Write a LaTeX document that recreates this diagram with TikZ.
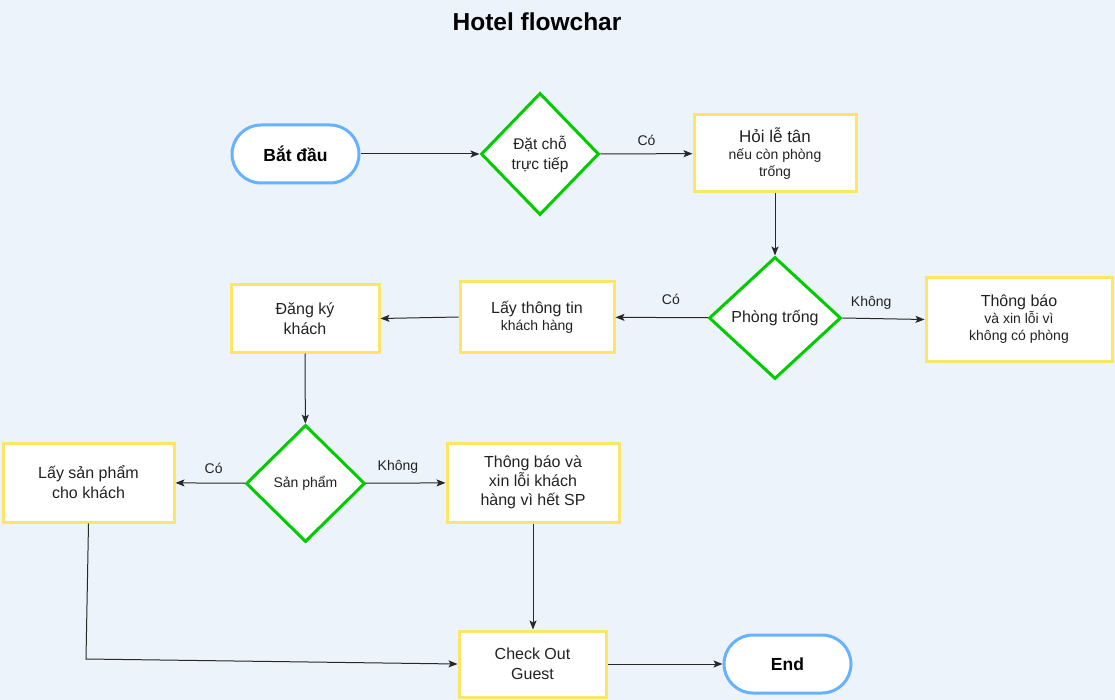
\documentclass[tikz,border=0pt]{standalone}
\usepackage{fontspec}
\setmainfont{Liberation Sans}
\usetikzlibrary{shapes.geometric,arrows.meta}
\definecolor{bgc}{RGB}{236,243,250}
\definecolor{ybox}{RGB}{255,229,102}
\definecolor{gdia}{RGB}{0,204,0}
\definecolor{bterm}{RGB}{102,178,255}
\definecolor{txt}{RGB}{34,34,34}
\definecolor{edgec}{RGB}{40,40,40}
\tikzset{
  fbig/.style={font=\fontsize{16}{20}\selectfont},
  procbox/.style={draw=ybox, line width=3pt, fill=white, rectangle, inner sep=0pt, text=txt, align=center, fbig},
  decision/.style={draw=gdia, line width=3pt, fill=white, diamond, inner sep=0pt, text=txt, align=center, fbig},
  terminal/.style={draw=bterm, line width=3pt, fill=white, rectangle, rounded corners=29pt, inner sep=0pt, font=\bfseries\fontsize{17.5}{20}\selectfont, text=black},
  conn/.style={draw=edgec, line width=1pt, -{Stealth[length=9pt,width=7pt,inset=2pt]}},
  elabel/.style={font=\fontsize{14}{16}\selectfont, text=txt},
}
\begin{document}
\begin{tikzpicture}[x=1pt,y=-1pt]
\fill[bgc] (0,0) rectangle (1115,700);
\useasboundingbox (0,0) rectangle (1115,700);

\node[font=\bfseries\fontsize{24.5}{28}\selectfont] (title) at (537,22) {Hotel flowchar};

\node[terminal, minimum width=127pt, minimum height=58pt] (start) at (295.5,154) {Bắt đầu};
\node[decision, minimum width=118pt, minimum height=122pt, font=\fontsize{15.5}{20}\selectfont] (d1) at (540,154) {Đặt chỗ\\trực tiếp};
\node[procbox, minimum width=162pt, minimum height=77pt] (ask) at (775,153.5) {{\fontsize{17}{20}\selectfont Hỏi lễ tân}\\[-3pt]{\fontsize{14}{16}\selectfont nếu còn phòng}\\[-3pt]{\fontsize{14}{16}\selectfont trống}};
\node[decision, minimum width=132pt, minimum height=122pt, font=\fontsize{16}{20}\selectfont] (d2) at (775,318) {Phòng trống};
\node[procbox, minimum width=186pt, minimum height=83pt] (sorry1) at (1019,319.5) {{\fontsize{16}{20}\selectfont Thông báo}\\[-3pt]{\fontsize{14}{16}\selectfont và xin lỗi vì}\\[-3pt]{\fontsize{14}{16}\selectfont không có phòng}};
\node[procbox, minimum width=154pt, minimum height=70pt] (info) at (537,317) {Lấy thông tin\\[-3pt]{\fontsize{14}{16}\selectfont khách hàng}};
\node[procbox, minimum width=148pt, minimum height=67pt] (reg) at (305,318.5) {Đăng ký\\khách};
\node[decision, minimum width=119pt, minimum height=117pt, font=\fontsize{14}{16}\selectfont] (d3) at (305.5,483.5) {Sản phẩm};
\node[procbox, minimum width=171pt, minimum height=79pt] (getsp) at (88.5,482.5) {Lấy sản phẩm\\cho khách};
\node[procbox, minimum width=172pt, minimum height=79pt] (sorry2) at (533,482.5) {Thông báo và\\[-1pt]xin lỗi khách\\[-1pt]hàng vì hết SP};
\node[procbox, minimum width=147pt, minimum height=66pt] (checkout) at (532.5,664) {Check Out\\Guest};
\node[terminal, minimum width=127pt, minimum height=58pt] (end) at (787.5,664) {End};

\coordinate (bend) at (86,659);

\draw[conn] (start) -- (d1);
\draw[conn] (d1) -- node[elabel, above=4pt] {Có} (ask);
\draw[conn] (ask) -- (d2);
\draw[conn] (d2.east) -- node[elabel, above=5pt, pos=0.35] {Không} (sorry1.west);
\draw[conn] (d2) -- node[elabel, above=9pt, pos=0.4] {Có} (info);
\draw[conn] (info.west) -- (reg.east);
\draw[conn] (reg) -- (d3);
\draw[conn] (d3) -- node[elabel, above=6pt, pos=0.45] {Có} (getsp);
\draw[conn] (d3) -- node[elabel, above=6pt, pos=0.4] {Không} (sorry2);
\draw[conn] (sorry2.south) -- (sorry2.south |- checkout.north);
\draw[conn] (getsp.south) -- (bend) -- (checkout.west);
\draw[conn] (checkout) -- (end);
\end{tikzpicture}
\end{document}
